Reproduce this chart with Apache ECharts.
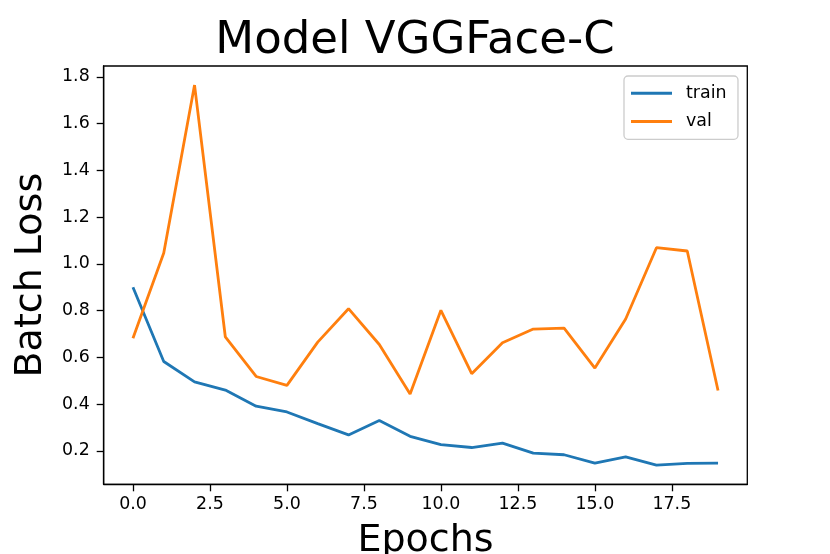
<!DOCTYPE html>
<html>
<head>
<meta charset="utf-8">
<script src="https://cdn.jsdelivr.net/npm/echarts@6/dist/echarts.min.js"></script>
<style>html,body{margin:0;padding:0;background:#fff}#c{width:830px;height:554px}</style>
</head>
<body>
<div id="c"></div>
<script>
const epochs = [0,1,2,3,4,5,6,7,8,9,10,11,12,13,14,15,16,17,18,19];
const trainLoss = [0.900,0.582,0.495,0.460,0.391,0.366,0.316,0.268,0.330,0.262,0.226,0.214,0.233,0.190,0.183,0.147,0.174,0.139,0.146,0.147];
const valLoss = [0.682,1.046,1.765,0.687,0.518,0.480,0.665,0.808,0.655,0.443,0.801,0.530,0.662,0.721,0.725,0.554,0.764,1.069,1.055,0.458];
const xTicks = [0,2.5,5,7.5,10,12.5,15,17.5];
const yTicks = [0.2,0.4,0.6,0.8,1.0,1.2,1.4,1.6,1.8];
const seriesNames = ['train','val'];

const FONT = 'DejaVu Sans';
const chart = echarts.init(document.getElementById('c'), null, {renderer:'canvas'});
const mk = arr => epochs.map((e,i)=>[e,arr[i]]);
chart.setOption({
  animation:false,
  backgroundColor:'#fff',
  title:{text:'Model VGGFace-C',left:'center',top:14,
    textStyle:{fontFamily:FONT,fontSize:45,fontWeight:'normal',color:'#000'}},
  grid:{left:103.7,right:82.7,top:66,bottom:69.7,outerBoundsMode:'none',containLabel:false,
    show:true,borderColor:'#000',borderWidth:1.3,backgroundColor:'#fff'},
  legend:{orient:'vertical',left:624,top:76,data:seriesNames,
    icon:'rect',itemWidth:41,itemHeight:3,itemGap:11.3,
    padding:[8.7,11.5,9.3,7],
    borderColor:'#cccccc',borderWidth:1.3,borderRadius:4,backgroundColor:'rgba(255,255,255,0.8)',
    textStyle:{fontFamily:FONT,fontSize:17.4,color:'#000',padding:[0,0,0,9]}},
  xAxis:{type:'value',min:-0.95,max:19.95,
    name:'Epochs',nameLocation:'middle',nameGap:38,
    nameTextStyle:{fontFamily:FONT,fontSize:38,color:'#000'},
    axisLine:{show:true,onZero:false,lineStyle:{color:'#000',width:1.3}},
    axisTick:{show:true,length:7,lineStyle:{color:'#000',width:1.3},customValues:xTicks},
    axisLabel:{fontFamily:FONT,fontSize:17.4,color:'#000',margin:12,customValues:xTicks,
      formatter:v=>v.toFixed(1)},
    splitLine:{show:false}},
  yAxis:{type:'value',min:0.0566,max:1.8466,
    name:'Batch Loss',nameLocation:'middle',nameGap:54,
    nameTextStyle:{fontFamily:FONT,fontSize:38,color:'#000'},
    axisLine:{show:true,onZero:false,lineStyle:{color:'#000',width:1.3}},
    axisTick:{show:true,length:7,lineStyle:{color:'#000',width:1.3},customValues:yTicks},
    axisLabel:{fontFamily:FONT,fontSize:17.4,color:'#000',margin:14,customValues:yTicks,
      formatter:v=>v.toFixed(1)},
    splitLine:{show:false}},
  series:[
    {name:seriesNames[0],type:'line',data:mk(trainLoss),symbol:'none',color:'#1f77b4',lineStyle:{width:2.8,color:'#1f77b4'}},
    {name:seriesNames[1],type:'line',data:mk(valLoss),symbol:'none',color:'#ff7f0e',lineStyle:{width:2.8,color:'#ff7f0e'}}
  ]
});
</script>
</body>
</html>
